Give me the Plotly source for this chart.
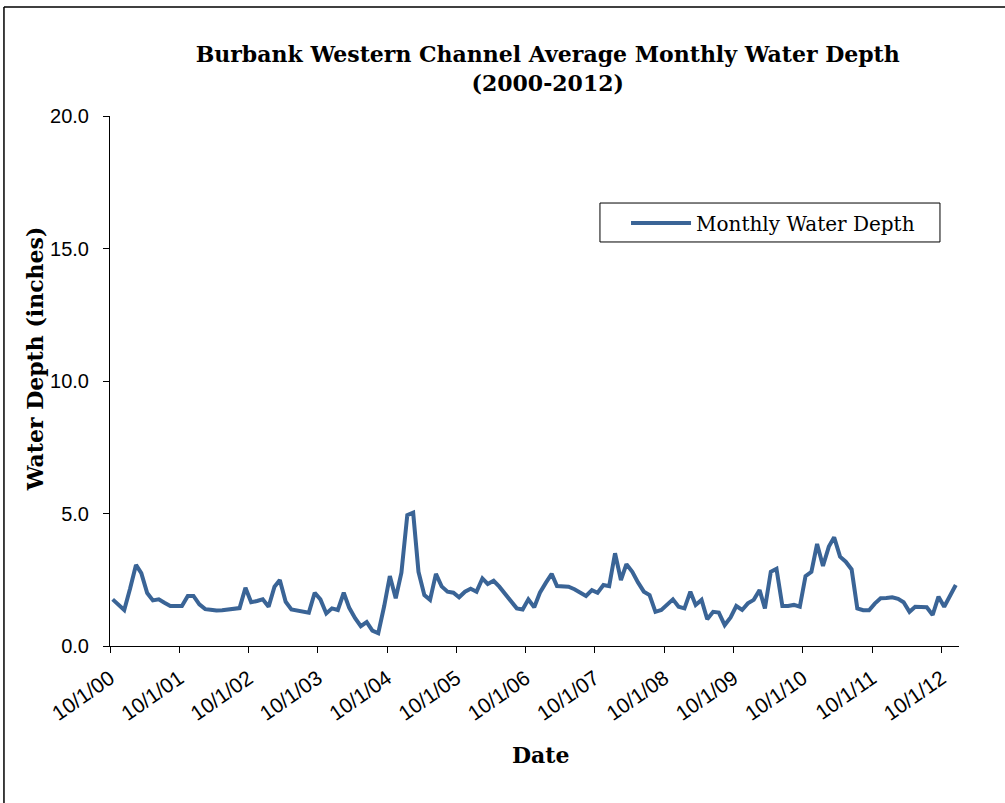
import pandas as pd
import plotly.graph_objects as go

# monthly average depth (inches), Oct 2000 .. Dec 2012
depth = [
    1.76, 1.56, 1.36, 2.17, 3.06, 2.75, 2.00, 1.72, 1.76, 1.63, 1.51, 1.51,
    1.51, 1.89, 1.89, 1.57, 1.39, 1.37, 1.34, 1.35, 1.38, 1.40, 1.43, 2.20,
    1.65, 1.70, 1.76, 1.48, 2.24, 2.49, 1.67, 1.38, 1.33, 1.30, 1.26, 2.01,
    1.76, 1.23, 1.42, 1.36, 2.01, 1.44, 1.05, 0.75, 0.90, 0.58, 0.48, 1.50,
    2.64, 1.80, 2.77, 4.94, 5.03, 2.80, 1.92, 1.74, 2.72, 2.25, 2.05, 2.01,
    1.84, 2.05, 2.16, 2.05, 2.55, 2.34, 2.46, 2.24, 1.95, 1.65, 1.42, 1.38,
    1.76, 1.46, 2.01, 2.38, 2.72, 2.26, 2.25, 2.24, 2.14, 2.01, 1.89, 2.11,
    2.01, 2.30, 2.26, 3.50, 2.49, 3.09, 2.80, 2.40, 2.05, 1.92, 1.29, 1.36,
    1.55, 1.76, 1.48, 1.42, 2.05, 1.55, 1.74, 1.01, 1.29, 1.26, 0.79, 1.08,
    1.51, 1.36, 1.61, 1.74, 2.11, 1.42, 2.80, 2.91, 1.51, 1.51, 1.55, 1.48,
    2.64, 2.80, 3.85, 3.02, 3.75, 4.10, 3.37, 3.18, 2.89, 1.42, 1.35, 1.35,
    1.60, 1.80, 1.81, 1.84, 1.78, 1.65, 1.29, 1.48, 1.47, 1.46, 1.17, 1.86,
    1.48, 1.90, 2.30,
]
months = pd.date_range("2000-10-01", periods=len(depth), freq="MS") + pd.Timedelta(days=14)

tick_dates = ["%d-10-01" % y for y in range(2000, 2013)]
tick_labels = ["10/1/%02d" % (y % 100) for y in range(2000, 2013)]

serif = "DejaVu Serif"
sans = "Liberation Sans, Arial"

fig = go.Figure()
fig.add_trace(go.Scatter(x=months, y=depth, mode="lines", name="Monthly Water Depth",
                         line=dict(color="#3A6496", width=4)))

fig.update_layout(
    width=1005, height=803,
    margin=dict(l=110, r=46, t=116, b=157),
    paper_bgcolor="white", plot_bgcolor="white",
    title=dict(text="Burbank Western Channel Average Monthly Water Depth<br>(2000-2012)",
               x=0.545, xanchor="center", y=0.9225, yanchor="top", yref="container",
               font=dict(family=serif, size=22, color="black", weight="bold")),
    xaxis=dict(type="date", range=["2000-10-01", "2013-01-01"], automargin=False,
               tickvals=tick_dates, ticktext=tick_labels, tickangle=-35,
               ticks="outside", ticklen=6, tickcolor="black", ticklabelstandoff=5,
               showline=True, linecolor="black", linewidth=1,
               showgrid=False, zeroline=False,
               tickfont=dict(family=sans, size=21, color="black")),
    yaxis=dict(range=[0, 20], dtick=5, tickformat=".1f", automargin=False,
               ticks="outside", ticklen=6, tickcolor="black", ticklabelstandoff=10,
               showline=True, linecolor="black", linewidth=1,
               showgrid=False, zeroline=False,
               tickfont=dict(family=sans, size=20, color="black")),
    legend=dict(x=0.6078, y=0.798, xanchor="left", yanchor="middle",
                borderwidth=0, bgcolor="rgba(0,0,0,0)", itemwidth=60,
                font=dict(family=serif, size=20, color="black")),
    showlegend=True,
)

# legend frame
fig.add_shape(type="rect", xref="paper", yref="paper", x0=0.5771, x1=0.9776,
              y0=0.7623, y1=0.8358, line=dict(color="black", width=1), fillcolor="white",
              layer="below")

fig.add_annotation(text="Water Depth (inches)", xref="paper", yref="paper",
                   x=-0.088, y=0.5415, xanchor="center", yanchor="middle",
                   textangle=-90, showarrow=False,
                   font=dict(family=serif, size=22, color="black", weight="bold"))
fig.add_annotation(text="Date", xref="paper", yref="paper",
                   x=0.508, y=-0.2057, xanchor="center", yanchor="middle", showarrow=False,
                   font=dict(family=serif, size=22, color="black", weight="bold"))

# chart frame (left and top edges visible in the source image)
fig.add_shape(type="line", xref="paper", yref="paper", x0=-0.1249, x1=-0.1249,
              y0=-0.32, y1=1.2057, line=dict(color="black", width=1.5))
fig.add_shape(type="line", xref="paper", yref="paper", x0=-0.1249, x1=1.06,
              y0=1.2057, y1=1.2057, line=dict(color="black", width=1.5))

fig.write_html("out.html", config={"displayModeBar": False},
               post_script="document.body.style.margin='0';")
